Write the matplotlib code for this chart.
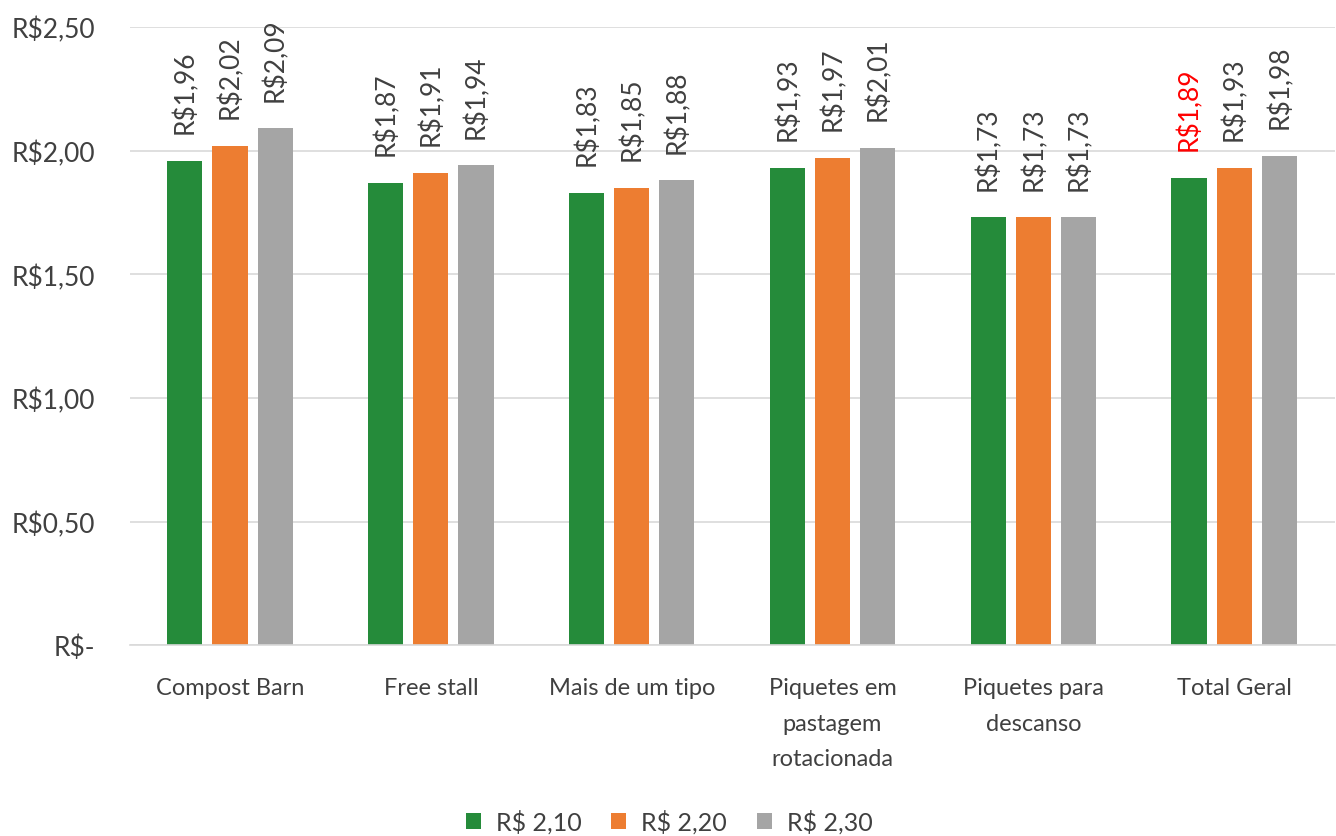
import numpy as np
import matplotlib.pyplot as plt
from matplotlib.ticker import FuncFormatter

categorias = ['Compost Barn', 'Free stall', 'Mais de um tipo',
              'Piquetes em\npastagem\nrotacionada', 'Piquetes para\ndescanso', 'Total Geral']
series = ['R$ 2,10', 'R$ 2,20', 'R$ 2,30']
valores = [
    [1.96, 1.87, 1.83, 1.93, 1.73, 1.89],
    [2.02, 1.91, 1.85, 1.97, 1.73, 1.93],
    [2.09, 1.94, 1.88, 2.01, 1.73, 1.98],
]
cores = ['#258B3A', '#ED7D31', '#A5A5A5']

plt.rcParams['font.family'] = ['Lato', 'DejaVu Sans']
texto = '#404040'

fig = plt.figure(figsize=(13.36, 8.37), dpi=100)
ax = fig.add_axes([0.097, 0.228, 0.902, 0.7385])

x = np.arange(len(categorias))
largura = 0.175
passo = 0.225

for i, (nome, vals, cor) in enumerate(zip(series, valores, cores)):
    pos = x + (i - 1) * passo
    barras = ax.bar(pos, vals, largura, color=cor, label=nome, zorder=2)
    for j, (b, v) in enumerate(zip(barras, vals)):
        cor_txt = 'red' if (i == 0 and j == len(categorias) - 1) else texto
        ax.annotate('R$' + f'{v:.2f}'.replace('.', ','),
                    (b.get_x() + b.get_width() / 2, v),
                    xytext=(0, 20), textcoords='offset points',
                    rotation=90, ha='center', va='bottom',
                    fontsize=19, color=cor_txt)

ax.set_ylim(0, 2.5)
ax.set_xlim(-0.5, len(categorias) - 0.5)
ax.set_yticks([0, 0.5, 1.0, 1.5, 2.0, 2.5])
ax.yaxis.set_major_formatter(FuncFormatter(
    lambda v, p: 'R$-' if v == 0 else 'R$' + f'{v:.2f}'.replace('.', ',')))
ax.set_xticks(x)
ax.set_xticklabels(categorias, linespacing=1.85)
ax.tick_params(axis='both', length=0, colors=texto)
ax.tick_params(axis='y', pad=25, labelsize=19)
ax.tick_params(axis='x', pad=23, labelsize=17)
ax.grid(axis='y', color='#D9D9D9', linewidth=1.2, zorder=0)
for s in ['top', 'right', 'left']:
    ax.spines[s].set_visible(False)
ax.spines['bottom'].set_color('#D9D9D9')
ax.spines['bottom'].set_linewidth(1.2)

fig.legend(loc='lower center', ncol=3, frameon=False, fontsize=18,
           bbox_to_anchor=(0.501, -0.024), handlelength=0.6, handleheight=0.6,
           columnspacing=1.2, handletextpad=0.6, labelcolor=texto)

fig.savefig('out.png', dpi=100)
